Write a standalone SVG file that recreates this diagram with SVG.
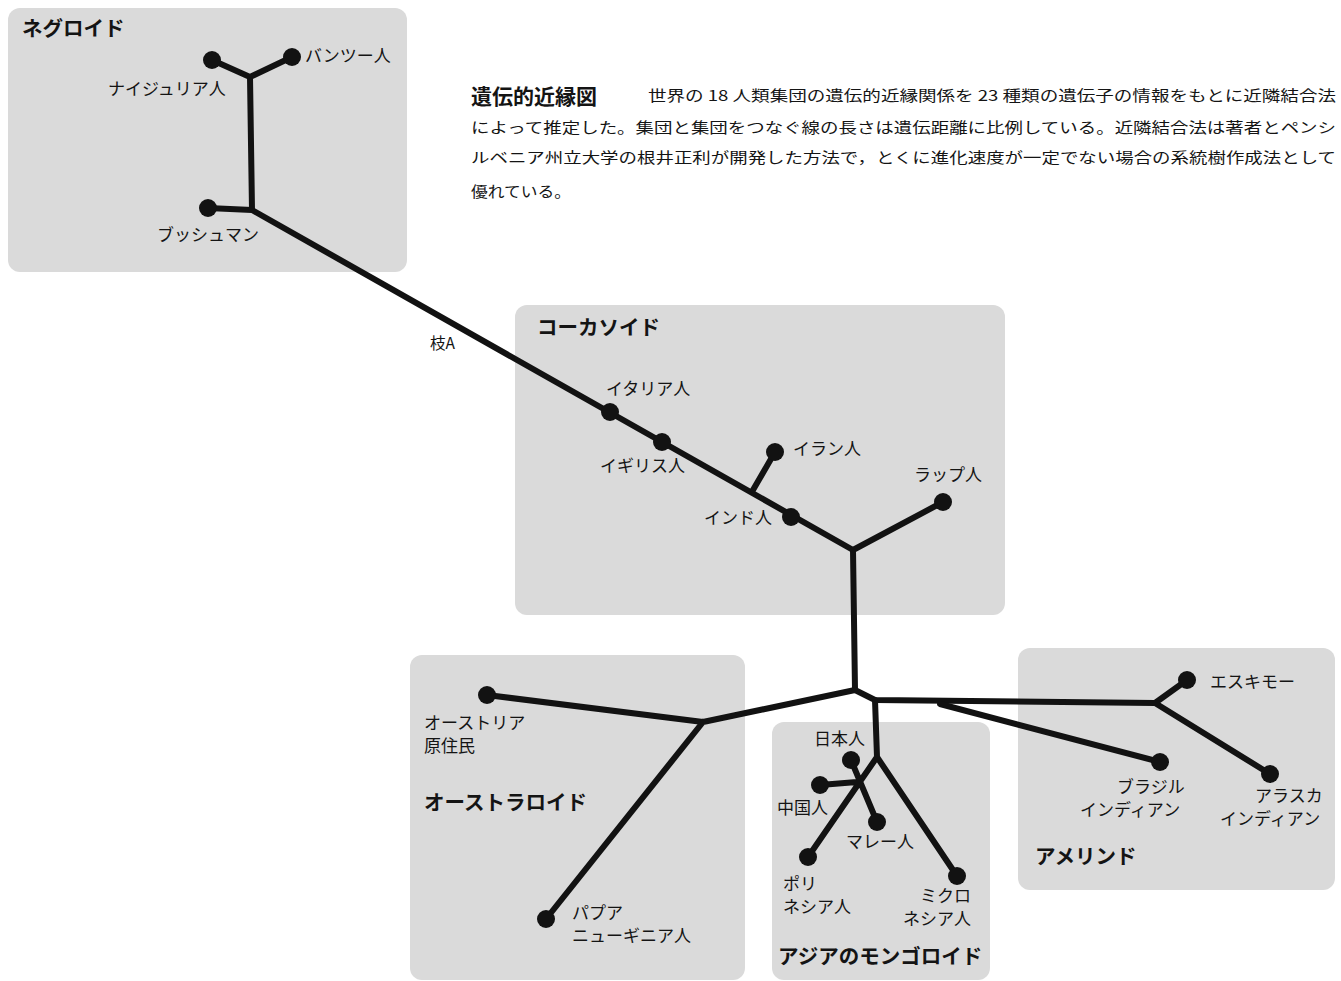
<svg xmlns="http://www.w3.org/2000/svg" width="1341" height="981" viewBox="0 0 1341 981">
<style>
text{font-family:"Noto Sans CJK JP","Noto Sans CJK SC",sans-serif;fill:#141414}
.lbl{font-size:17px}
.grp{font-size:20.5px;font-weight:bold}
.cap{font-size:14.5px}
.box{fill:#dadada;stroke:none}
.br{stroke:#121212;stroke-width:6;fill:none;stroke-linecap:round;stroke-linejoin:round}
.dot{fill:#121212}
</style>
<rect width="1341" height="981" fill="#ffffff"/>
<g id="regions">
<rect class="box" x="8" y="8" width="399" height="264" rx="12"/>
<rect class="box" x="515" y="305" width="490" height="310" rx="12"/>
<rect class="box" x="410" y="655" width="335" height="325" rx="12"/>
<rect class="box" x="772" y="722" width="218" height="258" rx="12"/>
<rect class="box" x="1018" y="648" width="317" height="242" rx="12"/>
</g>
<g id="caption">
<text x="471" y="104" style="font-size:21px;font-weight:bold">遺伝的近縁図</text>
<text class="cap" x="648" y="101" textLength="688" lengthAdjust="spacingAndGlyphs">世界の 18 人類集団の遺伝的近縁関係を 23 種類の遺伝子の情報をもとに近隣結合法</text>
<text class="cap" x="471" y="133" textLength="865" lengthAdjust="spacingAndGlyphs">によって推定した。集団と集団をつなぐ線の長さは遺伝距離に比例している。近隣結合法は著者とペンシ</text>
<text class="cap" x="471" y="163" textLength="865" lengthAdjust="spacingAndGlyphs">ルベニア州立大学の根井正利が開発した方法で，とくに進化速度が一定でない場合の系統樹作成法として</text>
<text class="cap" x="471" y="197" textLength="100" lengthAdjust="spacingAndGlyphs">優れている。</text>
</g>
<g id="connectors">
<path class="br" d="M212,60 L250,77 L292,57 M250,77 L252,210 L208,208 M252,210 L853,550"/>
<path class="br" d="M753,490 L775,452"/>
<path class="br" d="M853,550 L943,502 M853,550 L855,690"/>
<path class="br" d="M855,690 L703,722 L487,695 M703,722 L546,919"/>
<path class="br" d="M855,690 L875,700 L1155,703 L1187,680 M1155,703 L1270,774"/>
<path class="br" d="M940,704 L1160,762"/>
<path class="br" d="M875,700 L877,757 L957,876 M877,757 L808,857 M851,760 L877,822 M820,785 L857,782"/>
</g>
<g id="negroid">
<text class="grp" x="22" y="36">ネグロイド</text>
<circle class="dot" cx="212" cy="60" r="9"/><text class="lbl" x="108" y="95">ナイジュリア人</text>
<circle class="dot" cx="292" cy="57" r="9"/><text class="lbl" x="305" y="62">バンツー人</text>
<circle class="dot" cx="208" cy="208" r="9"/><text class="lbl" x="157" y="241">ブッシュマン</text>
</g>
<text id="branchA" class="lbl" x="430" y="349" style="font-size:15.5px">枝A</text>
<g id="caucasoid">
<text class="grp" x="537" y="335">コーカソイド</text>
<circle class="dot" cx="610" cy="412" r="9"/><text class="lbl" x="606" y="395">イタリア人</text>
<circle class="dot" cx="662" cy="442" r="9"/><text class="lbl" x="600" y="472">イギリス人</text>
<circle class="dot" cx="775" cy="452" r="9"/><text class="lbl" x="793" y="455">イラン人</text>
<circle class="dot" cx="791" cy="517" r="9"/><text class="lbl" x="704" y="524">インド人</text>
<circle class="dot" cx="943" cy="502" r="9"/><text class="lbl" x="914" y="481">ラップ人</text>
</g>
<g id="australoid">
<circle class="dot" cx="487" cy="695" r="9"/><text class="lbl" x="424" y="729">オーストリア</text><text class="lbl" x="424" y="752">原住民</text>
<text class="grp" x="424" y="810">オーストラロイド</text>
<circle class="dot" cx="546" cy="919" r="9"/><text class="lbl" x="572" y="919">パプア</text><text class="lbl" x="572" y="942">ニューギニア人</text>
</g>
<g id="mongoloid">
<circle class="dot" cx="851" cy="760" r="9"/><text class="lbl" x="814" y="745">日本人</text>
<circle class="dot" cx="820" cy="785" r="9"/><text class="lbl" x="777" y="814">中国人</text>
<circle class="dot" cx="877" cy="822" r="9"/><text class="lbl" x="846" y="848">マレー人</text>
<circle class="dot" cx="808" cy="857" r="9"/><text class="lbl" x="783" y="890">ポリ</text><text class="lbl" x="783" y="913">ネシア人</text>
<circle class="dot" cx="957" cy="876" r="9"/><text class="lbl" x="920" y="902">ミクロ</text><text class="lbl" x="903" y="925">ネシア人</text>
<text class="grp" x="778" y="964">アジアのモンゴロイド</text>
</g>
<g id="amerind">
<circle class="dot" cx="1187" cy="680" r="9"/><text class="lbl" x="1210" y="688">エスキモー</text>
<circle class="dot" cx="1160" cy="762" r="9"/><text class="lbl" x="1117" y="793">ブラジル</text><text class="lbl" x="1080" y="816">インディアン</text>
<circle class="dot" cx="1270" cy="774" r="9"/><text class="lbl" x="1255" y="802">アラスカ</text><text class="lbl" x="1220" y="825">インディアン</text>
<text class="grp" x="1035" y="864">アメリンド</text>
</g>
</svg>
